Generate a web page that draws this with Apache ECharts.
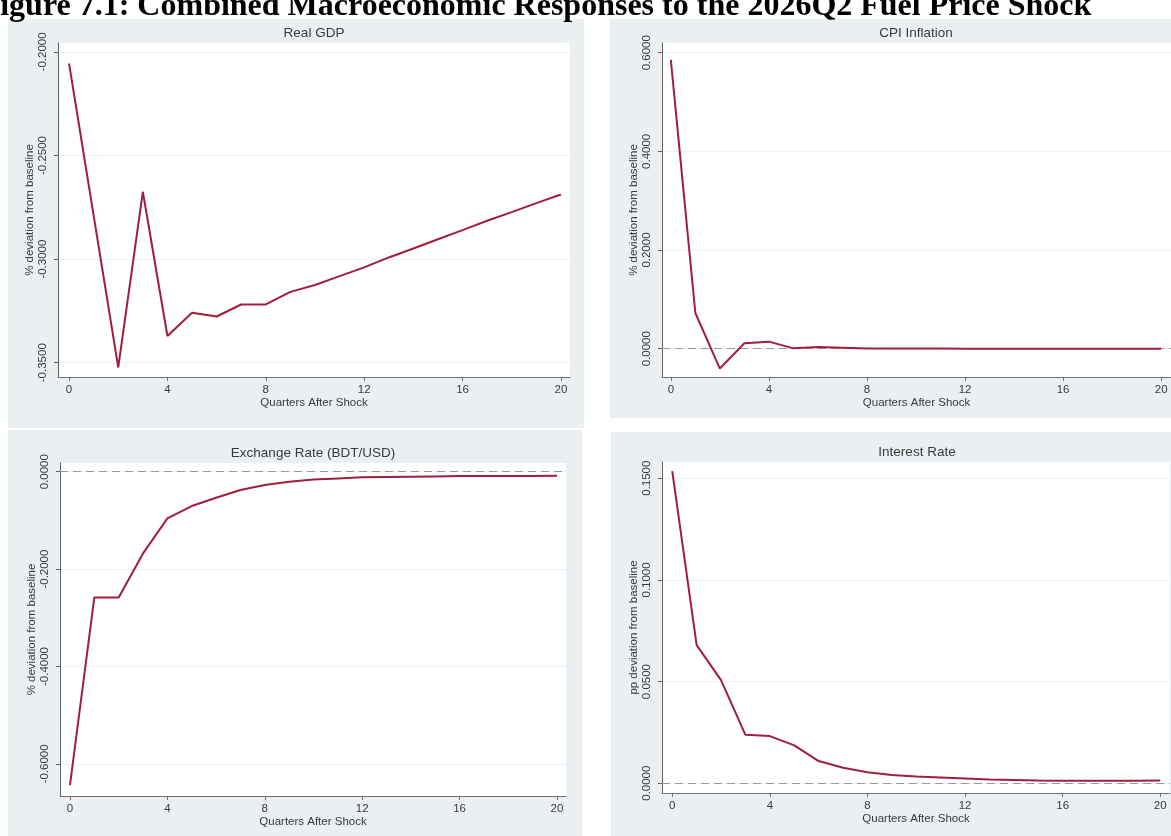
<!DOCTYPE html>
<html><head><meta charset="utf-8">
<script src="https://cdn.jsdelivr.net/npm/echarts@6/dist/echarts.min.js"></script>
<style>html,body{margin:0;padding:0;background:#fff;}#c{width:1171px;height:836px;}</style>
</head><body><div id="c"></div>
<script>
// ---------------- data ----------------
const quarters = [0,1,2,3,4,5,6,7,8,9,10,11,12,13,14,15,16,17,18,19,20];
const realGDP = [-0.2056,-0.2790,-0.3523,-0.2675,-0.3371,-0.3259,-0.3277,-0.3219,-0.3219,-0.3158,-0.3125,-0.3082,-0.3040,-0.2992,-0.2949,-0.2904,-0.2860,-0.2815,-0.2773,-0.2730,-0.2688];
const cpiInflation = [0.5857,0.0724,-0.0403,0.0109,0.0143,0.0007,0.0034,0.0020,0.0005,0.0003,0.0002,0.0002,0.0001,0.0001,0.0001,0.0001,0.0000,0.0000,0.0000,0.0000,0.0000];
const exchangeRate = [-0.6438,-0.2582,-0.2582,-0.1678,-0.0959,-0.0705,-0.0534,-0.0377,-0.0274,-0.0205,-0.0158,-0.0137,-0.0116,-0.0110,-0.0103,-0.0096,-0.0089,-0.0088,-0.0087,-0.0086,-0.0082];
const interestRate = [0.1535,0.0679,0.0507,0.0238,0.0232,0.0186,0.0109,0.0076,0.0054,0.0041,0.0033,0.0028,0.0023,0.0018,0.0016,0.0013,0.0012,0.0012,0.0012,0.0012,0.0013];
const xTicks = [0,4,8,12,16,20];
const gdpTicks = [-0.35,-0.30,-0.25,-0.20];
const cpiTicks = [0,0.2,0.4,0.6];
const fxTicks = [-0.6,-0.4,-0.2,0];
const rateTicks = [0,0.05,0.10,0.15];
const panelTitles = ['Real GDP','CPI Inflation','Exchange Rate (BDT/USD)','Interest Rate'];
const yNames = ['% deviation from baseline','% deviation from baseline','% deviation from baseline','pp deviation from baseline'];
const xName = 'Quarters After Shock';
const figureTitle = 'Figure 7.1: Combined Macroeconomic Responses to the 2026Q2 Fuel Price Shock';

// ---------------- layout ----------------
const seriesData = [realGDP, cpiInflation, exchangeRate, interestRate];
const yTickSets = [gdpTicks, cpiTicks, fxTicks, rateTicks];
const zeroLine = [false, true, true, true];
const panels = [
  {bg:[8,19,576,409],  grid:{left:58, top:43, width:512, height:334}, xr:[-0.45,20.37], yr:[-0.3569,-0.1957], tx:314, ty:33},
  {bg:[610,19,561,399],grid:{left:662,top:43, width:512, height:334}, xr:[-0.36,20.40], yr:[-0.0574,0.6197], tx:916, ty:33},
  {bg:[8,430,574,406], grid:{left:60, top:463,width:506, height:333}, xr:[-0.41,20.37], yr:[-0.666,0.0179],  tx:313, ty:453},
  {bg:[611,432,560,404],grid:{left:662,top:462,width:508, height:331}, xr:[-0.42,20.40], yr:[-0.0048,0.158],  tx:917, ty:452}
];
const LINE = '#a11d3f';
const TXT = '#3a3a3a';
const FONT = '"Liberation Sans", Arial, sans-serif';

const grids = [], xAxes = [], yAxes = [], series = [], graphics = [];
panels.forEach((p, i) => {
  graphics.push({type:'rect', z:-10, shape:{x:p.bg[0], y:p.bg[1], width:p.bg[2], height:p.bg[3]}, style:{fill:'#eaeff2'}});
  graphics.push({type:'text', z:5, x:p.tx, y:p.ty, style:{text:panelTitles[i], fill:TXT, font:'13.5px ' + FONT, textAlign:'center', textVerticalAlign:'middle'}});
  grids.push(Object.assign({show:true, backgroundColor:'#ffffff', borderWidth:0, containLabel:false}, p.grid));
  xAxes.push({
    type:'value', gridIndex:i, min:p.xr[0], max:p.xr[1],
    name:xName, nameLocation:'middle', nameGap:20,
    nameTextStyle:{color:TXT, fontSize:11.5, fontFamily:FONT},
    axisLine:{show:true, onZero:false, lineStyle:{color:'#707070', width:1}},
    axisTick:{show:true, length:4, customValues:xTicks, lineStyle:{color:'#707070'}},
    axisLabel:{customValues:xTicks, margin:7, color:TXT, fontSize:11.5, fontFamily:FONT},
    splitLine:{show:false}
  });
  yAxes.push({
    type:'value', gridIndex:i, min:p.yr[0], max:p.yr[1],
    name:yNames[i], nameLocation:'middle', nameGap:22, nameRotate:90,
    nameTextStyle:{color:TXT, fontSize:11.5, fontFamily:FONT},
    axisLine:{show:true, onZero:false, lineStyle:{color:'#606060', width:1}},
    axisTick:{show:true, length:4, customValues:yTickSets[i], lineStyle:{color:'#606060'}},
    axisLabel:{customValues:yTickSets[i], rotate:90, margin:9, color:TXT, fontSize:11.5, fontFamily:FONT,
               formatter:v => (Math.abs(v) < 1e-9 ? 0 : v).toFixed(4)},
    splitLine:{show:true, lineStyle:{color:'#edf1f3', width:1}}
  });
  const s = {
    type:'line', xAxisIndex:i, yAxisIndex:i,
    data: quarters.map((q, k) => [q, seriesData[i][k]]),
    showSymbol:false, symbol:'none', smooth:false,
    lineStyle:{color:LINE, width:2}, itemStyle:{color:LINE}, z:3
  };
  if (zeroLine[i]) {
    s.markLine = {silent:true, symbol:'none', label:{show:false},
      lineStyle:{color:'#9a9a9a', width:1, type:[8,5]}, data:[{yAxis:0}], z:2};
  }
  series.push(s);
});
graphics.push({type:'text', z:6, x:536, y:-9, style:{text:figureTitle, fill:'#000', font:'bold 32px "Liberation Serif", "DejaVu Serif", serif', textAlign:'center', textVerticalAlign:'alphabetic'}});

const chart = echarts.init(document.getElementById('c'), null, {renderer:'canvas'});
chart.setOption({
  animation:false,
  backgroundColor:'#ffffff',
  grid:grids, xAxis:xAxes, yAxis:yAxes, series:series,
  graphic:{elements:graphics}
});
</script></body></html>
